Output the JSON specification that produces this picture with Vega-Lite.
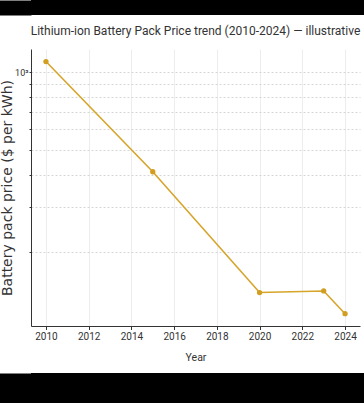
{
  "$schema": "https://vega.github.io/schema/vega-lite/v6.json",
  "background": "white",
  "padding": 0,
  "spacing": 10,
  "config": {"view": {"stroke": null}},
  "vconcat": [
    {
      "width": 336,
      "height": 15,
      "view": {"fill": "black", "stroke": null},
      "data": {"values": [{"v": 0}]},
      "mark": {"type": "text", "text": ""},
      "encoding": {
        "y": {
          "field": "v",
          "type": "quantitative",
          "axis": {"labels": false, "ticks": false, "grid": false, "title": null, "domain": true, "domainColor": "black", "domainWidth": 33, "offset": 16.5}
        }
      }
    },
    {
      "width": 329,
      "height": 277,
      "title": {
        "text": "Lithium-ion Battery Pack Price trend (2010-2024) — illustrative",
        "font": "Roboto",
        "fontSize": 12,
        "fontWeight": "normal",
        "color": "#333333",
        "anchor": "middle",
        "frame": "group",
        "offset": 11
      },
      "data": {
        "values": [
          {"Year": 2010, "price": 1100},
          {"Year": 2015, "price": 410},
          {"Year": 2020, "price": 139},
          {"Year": 2023, "price": 141},
          {"Year": 2024, "price": 115}
        ]
      },
      "encoding": {
        "x": {
          "field": "Year",
          "type": "quantitative",
          "scale": {"domain": [2009.3, 2024.7], "nice": false, "zero": false},
          "axis": {
            "values": [2010, 2012, 2014, 2016, 2018, 2020, 2022, 2024],
            "format": "d",
            "grid": true,
            "gridColor": "#e8e8e8",
            "gridWidth": 0.8,
            "domainColor": "#333333",
            "tickColor": "#333333",
            "tickSize": 3.5,
            "labelFont": "Roboto",
            "labelFontSize": 10,
            "labelColor": "#333333",
            "labelPadding": 2,
            "title": "Year",
            "titleFont": "Roboto",
            "titleFontSize": 10.5,
            "titleFontWeight": "normal",
            "titleColor": "#333333",
            "titlePadding": 11
          }
        },
        "y": {
          "field": "price",
          "type": "quantitative",
          "scale": {"type": "log", "domain": [103, 1231], "nice": false},
          "axis": {
            "values": [200, 300, 400, 500, 600, 700, 800, 900, 1000],
            "labelExpr": "datum.value == 1000 ? '10³' : ''",
            "grid": true,
            "gridColor": "#cccccc",
            "gridDash": [2, 2],
            "gridWidth": 0.8,
            "domainColor": "#333333",
            "tickColor": "#333333",
            "tickSize": 2,
            "labelFont": "Roboto",
            "labelFontSize": 9,
            "labelColor": "#333333",
            "labelPadding": 1,
            "title": "Battery pack price ($ per kWh)",
            "titleFont": "DejaVu Sans",
            "titleFontSize": 14,
            "titleFontWeight": "normal",
            "titleColor": "#333333",
            "titlePadding": 0
          }
        }
      },
      "layer": [
        {"mark": {"type": "line", "color": "#D6A52A", "strokeWidth": 1.6}},
        {"mark": {"type": "point", "filled": true, "color": "#D19E20", "size": 28, "opacity": 1}}
      ]
    },
    {
      "width": 336,
      "height": 31,
      "view": {"fill": "black", "stroke": null},
      "data": {"values": [{"v": 0}]},
      "mark": {"type": "text", "text": ""},
      "encoding": {
        "y": {
          "field": "v",
          "type": "quantitative",
          "axis": {"labels": false, "ticks": false, "grid": false, "title": null, "domain": true, "domainColor": "black", "domainWidth": 33, "offset": 16.5}
        }
      }
    }
  ]
}
